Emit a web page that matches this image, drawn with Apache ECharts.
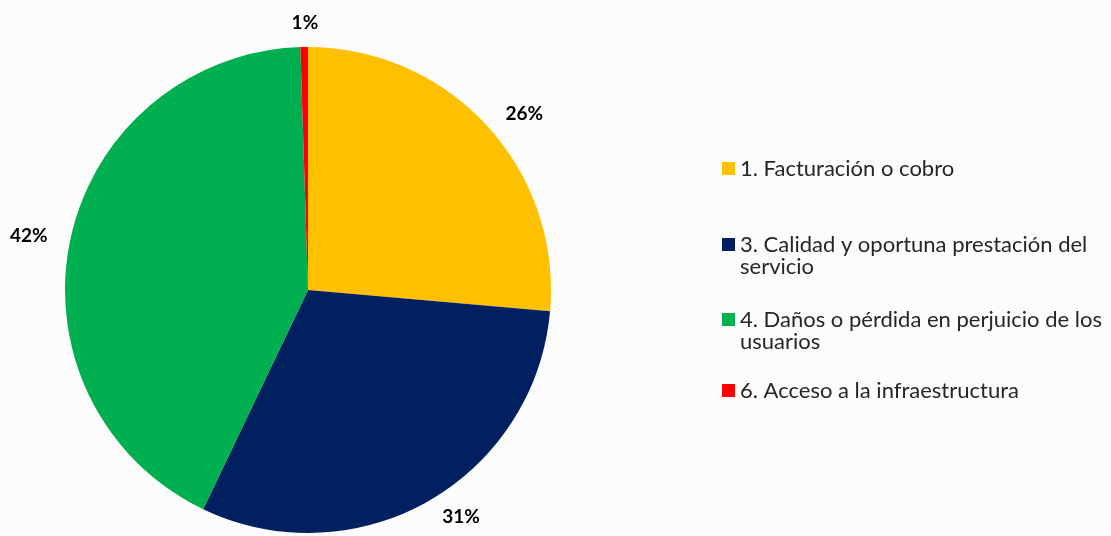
<!DOCTYPE html>
<html>
<head>
<meta charset="utf-8">
<script src="https://cdn.jsdelivr.net/npm/echarts@6/dist/echarts.min.js"></script>
<style>
  html, body { margin: 0; padding: 0; background: #fcfcfc; }
  #pie { width: 1111px; height: 536px; }
</style>
</head>
<body>
<div id="pie"></div>
<script>
// datos
var categorias = [
    '1. Facturación o cobro',
    '3. Calidad y oportuna prestación del servicio',
    '4. Daños o pérdida en perjuicio de los usuarios',
    '6. Acceso a la infraestructura'
];
var valores = [26.4, 30.7, 42.4, 0.5];
var colores = ['#FFC000', '#002060', '#00B050', '#FF0000'];
// primera linea de la leyenda y su continuacion
var leyendaLinea1 = [
    '1. Facturación o cobro',
    '3. Calidad y oportuna prestación del',
    '4. Daños o pérdida en perjuicio de los',
    '6. Acceso a la infraestructura'
];
var leyendaLinea2 = ['', 'servicio', 'usuarios', ''];

var total = valores.reduce(function (a, b) { return a + b }, 0);

var pie_echarts = echarts.init(document.querySelector('#pie'), null, { renderer: 'canvas' });

// centro vertical de la primera linea de cada entrada
var leyendaCentro = [164, 240, 315, 386];
var legends = [];
var graficos = [];
categorias.forEach(function (nombre, i) {
    legends.push({
        data: [nombre],
        orient: 'vertical',
        left: 717,
        top: leyendaCentro[i] - 6.5 - 5,
        itemWidth: 13,
        itemHeight: 13,
        icon: 'rect',
        selectedMode: false,
        formatter: function () { return leyendaLinea1[i] },
        textStyle: {
            fontFamily: 'Lato',
            fontSize: 22,
            color: '#262626'
        }
    });
    if (leyendaLinea2[i]) {
        graficos.push({
            type: 'text',
            left: 740,
            top: leyendaCentro[i] + 27 - 11,
            style: {
                text: leyendaLinea2[i],
                fontFamily: 'Lato',
                fontSize: 22,
                fill: '#262626'
            }
        });
    }
});

var optionPie = {
    backgroundColor: '#fcfcfc',
    animation: false,
    color: colores,
    legend: legends,
    graphic: graficos,
    series: [
        {
            type: 'pie',
            center: [308, 290],
            radius: 243,
            startAngle: 90,
            clockwise: true,
            data: categorias.map(function (nombre, i) {
                return { name: nombre, value: valores[i] }
            }),
            label: {
                show: true,
                position: 'outside',
                overflow: 'none',
                fontFamily: 'Lato',
                fontWeight: 'bold',
                fontSize: 19,
                color: '#000',
                formatter: function (p) {
                    return Math.round(p.value / total * 100) + '%'
                }
            },
            // porciones muy pequenas: etiqueta centrada sobre la porcion
            labelLayout: function (p) {
                return valores[p.dataIndex] / total < 0.02 ? { align: 'center', dx: 6, dy: -6 } : {}
            },
            labelLine: { show: false, length: 18, length2: 0 },
            itemStyle: { borderWidth: 0 },
            emphasis: { disabled: true }
        }
    ]
};

pie_echarts.setOption(optionPie);
</script>
</body>
</html>
